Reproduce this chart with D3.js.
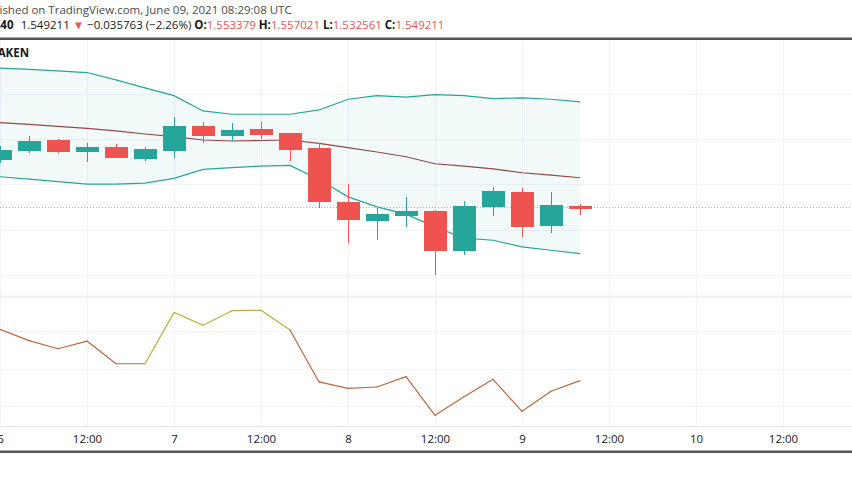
<!doctype html>
<html>
<head>
<meta charset="utf-8">
<script src="https://cdn.jsdelivr.net/npm/d3@7"></script>
<style>
  body { margin: 0; background: #fff; }
  svg { display: block; font-family: "Open Sans", sans-serif; }
</style>
</head>
<body>
<svg id="chart" width="852" height="485"></svg>
<script>
// 4h candles, ADA/USD (Kraken)
const times = [
  "2021-06-06T00:00Z", "2021-06-06T04:00Z", "2021-06-06T08:00Z", "2021-06-06T12:00Z",
  "2021-06-06T16:00Z", "2021-06-06T20:00Z", "2021-06-07T00:00Z", "2021-06-07T04:00Z",
  "2021-06-07T08:00Z", "2021-06-07T12:00Z", "2021-06-07T16:00Z", "2021-06-07T20:00Z",
  "2021-06-08T00:00Z", "2021-06-08T04:00Z", "2021-06-08T08:00Z", "2021-06-08T12:00Z",
  "2021-06-08T16:00Z", "2021-06-08T20:00Z", "2021-06-09T00:00Z", "2021-06-09T04:00Z",
  "2021-06-09T08:00Z"
].map(d => new Date(d));

const open  = [1.6552, 1.6757, 1.6978, 1.6735, 1.6817, 1.6587, 1.6751, 1.7294, 1.7095, 1.7221, 1.7126,
               1.6795, 1.5616, 1.5205, 1.5322, 1.5411, 1.4543, 1.5521, 1.5837, 1.5102, 1.553379];
const high  = [1.6845, 1.7066, 1.6990, 1.6905, 1.6883, 1.6817, 1.7486, 1.7382, 1.7360, 1.7382, 1.7140,
               1.6905, 1.6007, 1.5470, 1.5726, 1.5433, 1.5631, 1.5947, 1.5925, 1.5823, 1.557021];
const low   = [1.6464, 1.6698, 1.6698, 1.6486, 1.6587, 1.6514, 1.6587, 1.6918, 1.6956, 1.6993, 1.6521,
               1.5483, 1.4711, 1.4786, 1.5051, 1.3998, 1.4455, 1.5300, 1.4837, 1.4925, 1.532561];
const close = [1.6757, 1.6956, 1.6742, 1.6830, 1.6603, 1.6779, 1.7280, 1.7095, 1.7199, 1.7110, 1.6773,
               1.5631, 1.5234, 1.5344, 1.5411, 1.4543, 1.5521, 1.5852, 1.5079, 1.5536, 1.549211];

// Bollinger bands
const bbUpper = [1.8561, 1.8534, 1.8501, 1.8464, 1.8302, 1.8126, 1.7956, 1.7618, 1.7545, 1.7545, 1.7545,
                 1.7640, 1.7876, 1.7956, 1.7921, 1.7978, 1.7956, 1.7890, 1.7905, 1.7876, 1.7817];
const bbBasis = [1.7360, 1.7320, 1.7276, 1.7236, 1.7177, 1.7110, 1.7051, 1.6978, 1.6956, 1.6967, 1.6978,
                 1.6905, 1.6808, 1.6713, 1.6609, 1.6455, 1.6404, 1.6344, 1.6256, 1.6205, 1.6146];
const bbLower = [1.6168, 1.6117, 1.6062, 1.6007, 1.6007, 1.6029, 1.6132, 1.6331, 1.6371, 1.6404, 1.6419,
                 1.6110, 1.5726, 1.5506, 1.5344, 1.5064, 1.4815, 1.4770, 1.4623, 1.4550, 1.4477];

// lower pane oscillator and its colour state per point
const osc = [71.1, 65.0, 60.7, 64.8, 52.7, 52.7, 80.1, 73.2, 81.0, 81.2, 70.7,
             43.0, 39.6, 40.3, 45.8, 25.2, 35.1, 44.4, 27.3, 38.0, 43.7];
const oscHot = [0, 0, 0, 0, 0, 1, 1, 1, 1, 1, 0, 0, 0, 0, 0, 0, 0, 0, 0, 0, 0];

const priceTicks = [1.4, 1.5, 1.6, 1.7, 1.8];
const oscTicks = [30, 50, 70];
const lastPrice = 1.549211;

const W = 852, H = 485;
const paneTop = 40, paneSplit = 296.5, axisY = 426;
const up = "#26a69a", down = "#ef5350";

const svg = d3.select("#chart");

const x = d3.scaleUtc()
    .domain([new Date("2021-06-06T00:00Z"), new Date("2021-06-10T12:00Z")])
    .range([0, 783]);
const y = d3.scaleLinear().domain([1.4, 1.8]).range([275.2, 93.6]);
const yo = d3.scaleLinear().domain([30, 70]).range([406.3, 331.3]);

const timeTicks = d3.utcHour.every(12).range(new Date("2021-06-06T00:00Z"), new Date("2021-06-11T00:00Z"))
    .filter(d => x(d) <= W);

// grid
const grid = svg.append("g").attr("shape-rendering", "crispEdges");
grid.selectAll(".v").data(timeTicks).join("line")
    .attr("x1", d => Math.round(x(d)) + 0.5).attr("x2", d => Math.round(x(d)) + 0.5)
    .attr("y1", paneTop).attr("y2", axisY)
    .attr("stroke", "#f0f3fa");
grid.selectAll(".hp").data(priceTicks).join("line")
    .attr("x1", 0).attr("x2", W)
    .attr("y1", d => Math.round(y(d)) + 0.5).attr("y2", d => Math.round(y(d)) + 0.5)
    .attr("stroke", "#f0f3fa");
grid.selectAll(".ho").data(oscTicks).join("line")
    .attr("x1", 0).attr("x2", W)
    .attr("y1", d => Math.round(yo(d)) + 0.5).attr("y2", d => Math.round(yo(d)) + 0.5)
    .attr("stroke", "#f0f3fa");

// bands
const idx = d3.range(times.length);
svg.append("path")
    .attr("d", d3.area().x(i => x(times[i])).y0(i => y(bbLower[i])).y1(i => y(bbUpper[i]))(idx))
    .attr("fill", "rgba(38,166,154,0.06)");
const bandLine = arr => d3.line().x(i => x(times[i])).y(i => y(arr[i]))(idx);
svg.append("path").attr("d", bandLine(bbUpper)).attr("fill", "none").attr("stroke", "#26a69a").attr("stroke-width", 1.2);
svg.append("path").attr("d", bandLine(bbLower)).attr("fill", "none").attr("stroke", "#26a69a").attr("stroke-width", 1.2);
svg.append("path").attr("d", bandLine(bbBasis)).attr("fill", "none").attr("stroke", "#964646").attr("stroke-width", 1.2);

// last price dotted line
svg.append("line")
    .attr("x1", 0).attr("x2", W)
    .attr("y1", Math.round(y(lastPrice)) + 0.5).attr("y2", Math.round(y(lastPrice)) + 0.5)
    .attr("stroke", down).attr("stroke-opacity", 0.6).attr("stroke-dasharray", "1,2");

// candles
const step = x(times[1]) - x(times[0]);
const bw = Math.round(step * 0.75);
const candles = svg.append("g").attr("shape-rendering", "crispEdges");
const cg = candles.selectAll("g").data(idx).join("g")
    .attr("fill", i => close[i] >= open[i] ? up : down)
    .attr("stroke", i => close[i] >= open[i] ? up : down);
cg.append("line")
    .attr("x1", i => Math.round(x(times[i])) + 0.5).attr("x2", i => Math.round(x(times[i])) + 0.5)
    .attr("y1", i => y(high[i])).attr("y2", i => y(low[i]));
cg.append("rect")
    .attr("x", i => Math.round(x(times[i]) - bw / 2) + 0.5)
    .attr("y", i => Math.round(y(Math.max(open[i], close[i]))) + 0.5)
    .attr("width", bw)
    .attr("height", i => Math.max(1, Math.round(Math.abs(y(open[i]) - y(close[i])))));

// oscillator
const oscG = svg.append("g").attr("fill", "none").attr("stroke-width", 1.2);
oscG.selectAll("line").data(idx.slice(0, -1)).join("line")
    .attr("x1", i => x(times[i])).attr("y1", i => yo(osc[i]))
    .attr("x2", i => x(times[i + 1])).attr("y2", i => yo(osc[i + 1]))
    .attr("stroke", i => oscHot[i] ? "#bcae3e" : "#c0673f")
    .attr("stroke-linecap", "round");

// pane separator & time axis line
svg.append("rect").attr("x", 0).attr("y", paneSplit - 1).attr("width", W).attr("height", 2).attr("fill", "#eeeff2");
svg.append("line").attr("x1", 0).attr("x2", W).attr("y1", axisY + 0.5).attr("y2", axisY + 0.5).attr("stroke", "#e0e3eb");

// time axis
const fmt = d => d.getUTCHours() === 0 ? d3.utcFormat("%-d")(d) : d3.utcFormat("%H:%M")(d);
const axis = svg.append("g")
    .attr("transform", `translate(0,${axisY})`)
    .call(d3.axisBottom(x).tickValues(timeTicks).tickFormat(fmt).tickSize(0).tickPadding(9));
axis.select(".domain").remove();
axis.selectAll("text").attr("font-family", "'Open Sans', sans-serif").attr("font-size", 11.5).attr("fill", "#131722");

// frame lines
svg.append("rect").attr("x", 0).attr("y", 37.5).attr("width", W).attr("height", 2.5).attr("fill", "#555");
svg.append("rect").attr("x", 0).attr("y", 450.5).attr("width", W).attr("height", 2.5).attr("fill", "#555");

// header
svg.append("text").attr("x", 291.7).attr("y", 14).attr("text-anchor", "end")
    .attr("font-size", 11.5).attr("fill", "#4a4a4a")
    .text("Published on TradingView.com, June 09, 2021 08:29:08 UTC");
svg.append("text").attr("x", 13.5).attr("y", 29).attr("text-anchor", "end")
    .attr("font-size", 11.5).attr("font-weight", "bold").attr("fill", "#131722")
    .text("ADAUSD, 240");
const l2 = svg.append("text").attr("x", 20.7).attr("y", 29).attr("font-size", 11.5).attr("fill", "#131722");
l2.append("tspan").text("1.549211 ");
l2.append("tspan").attr("fill", down).text("▼");
l2.append("tspan").text(" −0.035763 (−2.26%) ");
[["O:", "1.553379"], ["H:", "1.557021"], ["L:", "1.532561"], ["C:", "1.549211"]].forEach(([k, v]) => {
  l2.append("tspan").attr("font-weight", "bold").text(k);
  l2.append("tspan").attr("fill", down).text(v + " ");
});
svg.append("text").attr("x", 29).attr("y", 57).attr("text-anchor", "end")
    .attr("font-size", 11.5).attr("font-weight", "bold").attr("fill", "#131722")
    .text("Cardano / U.S. Dollar, 240, KRAKEN");
</script>
</body>
</html>
